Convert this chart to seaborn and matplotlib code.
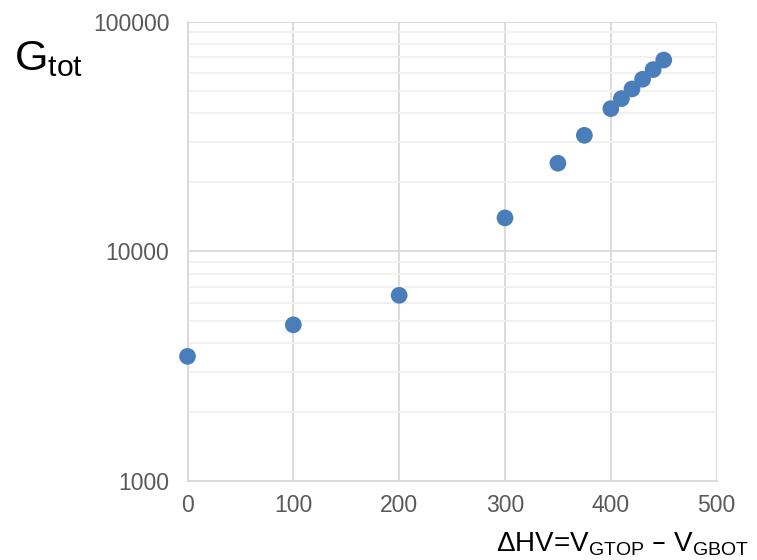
import matplotlib
matplotlib.use("Agg")
import matplotlib.pyplot as plt
import matplotlib.ticker as mticker
import seaborn as sns
import pandas as pd

# Gain measurements versus GEM voltage difference
delta_hv = [0, 100, 200, 300, 350, 375, 400, 410, 420, 430, 440, 450]
gain_tot = [3500, 4800, 6450, 14000, 24200, 32000, 41800, 46200, 50900, 56100, 61800, 68000]

x_ticks = [0, 100, 200, 300, 400, 500]
y_ticks = [1000, 10000, 100000]

sns.set_theme(style="white")
plt.rcParams["font.family"] = ["Liberation Sans", "DejaVu Sans"]

df = pd.DataFrame({"dHV": delta_hv, "G": gain_tot})

fig = plt.figure(figsize=(7.57, 5.6), dpi=100)
ax = fig.add_axes([0.2477, 0.1402, 0.699, 0.8214])

ax.set_yscale("log")
ax.set_xlim(0, 500)
ax.set_ylim(1000, 100000)

# grid: light minor lines, darker major lines
ax.yaxis.set_minor_locator(mticker.LogLocator(base=10, subs=range(2, 10)))
ax.grid(which="minor", axis="y", color="#f0f0f0", linewidth=1.3, zorder=0)
ax.grid(which="major", axis="both", color="#d9d9d9", linewidth=1.3, zorder=0)
ax.set_axisbelow(True)

sns.scatterplot(data=df, x="dHV", y="G", ax=ax, s=145, color="#4a7ebb",
                edgecolor="none", zorder=3, clip_on=False, legend=False)

ax.set_xticks(x_ticks)
ax.set_xticklabels([str(v) for v in x_ticks])
ax.set_yticks(y_ticks)
ax.set_yticklabels([str(v) for v in y_ticks])
ax.yaxis.set_minor_formatter(mticker.NullFormatter())
ax.tick_params(axis="both", which="both", length=0, labelsize=16.5,
               labelcolor="#595959")
ax.tick_params(axis="x", pad=9)
ax.tick_params(axis="y", pad=13)

for side in ["top", "right"]:
    ax.spines[side].set_visible(False)
for side in ["left", "bottom"]:
    ax.spines[side].set_color("#d9d9d9")
    ax.spines[side].set_linewidth(1.3)

ax.set_xlabel("")
ax.set_ylabel("")

fig.text(0.018, 0.895, r"G$_{\mathregular{tot}}$", fontsize=31, color="black",
         ha="left", va="center")
fig.text(0.655, 0.003, r"ΔHV=V$_{\mathregular{GTOP}}$ – V$_{\mathregular{GBOT}}$",
         fontsize=20, color="black", ha="left", va="bottom")

fig.savefig("out.png", dpi=100)
